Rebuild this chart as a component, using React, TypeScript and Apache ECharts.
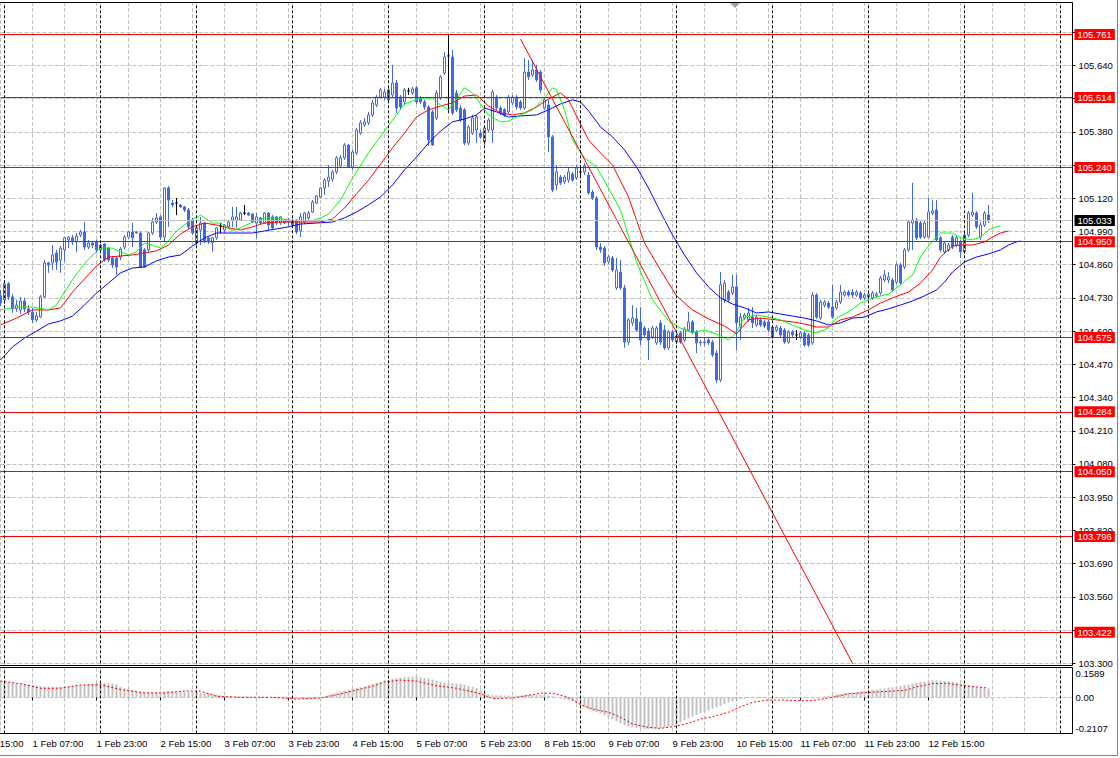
import React, { useEffect, useRef } from 'react';
import * as echarts from 'echarts';

const FONT = '"Liberation Sans", Arial, sans-serif';
const CANDLE_BLUE = '#4169e1';
const GRID_GREY = '#c0c0c0';

// bars are numbered hourly from 29 Jan 15:00 (bar 0); the window shows bars 8..276
const FIRST_VISIBLE = 8;
const LAST_CATEGORY = 276;
const LAST_BAR = 255;
const BARS_PER_LABEL = 16;
const BARS_PER_GRID = 8;

// time axis tick labels (one every 16 bars, starting at bar 0)
const timeLabels = [
  '29 Jan 15:00', '1 Feb 07:00', '1 Feb 23:00', '2 Feb 15:00', '3 Feb 07:00', '3 Feb 23:00',
  '4 Feb 15:00', '5 Feb 07:00', '5 Feb 23:00', '8 Feb 15:00', '9 Feb 07:00', '9 Feb 23:00',
  '10 Feb 15:00', '11 Feb 07:00', '11 Feb 23:00', '12 Feb 15:00',
];
// bars of the day separators
const daySeparators = [9, 33, 57, 81, 105, 129, 153, 177, 201, 225, 249, 273];

const priceLevels = [105.761, 105.514, 105.24, 104.95, 104.575, 104.284, 104.05, 103.796, 103.422];
const bidPrice = 105.033;
const priceMin = 103.3;
const priceMax = 105.888;
const priceStep = 0.13;
const macdLabelMax = 0.1589;
const macdLabelMin = -0.2107;
const macdWindowMax = 0.2014;
const macdWindowMin = -0.2446;

// [open, close, low, high] for bars 8..255
const candles = [
  [104.738,104.710,104.698,104.761],[104.722,104.785,104.706,104.800],[104.785,104.734,104.722,104.792],[104.734,104.687,104.671,104.745],[104.687,104.702,104.675,104.722],
  [104.683,104.718,104.667,104.734],[104.718,104.687,104.675,104.730],[104.687,104.675,104.663,104.702],[104.675,104.644,104.632,104.691],[104.644,104.659,104.636,104.675],
  [104.655,104.734,104.651,104.741],[104.734,104.867,104.730,104.878],[104.867,104.859,104.828,104.871],[104.867,104.898,104.839,104.937],[104.906,104.871,104.839,104.918],
  [104.878,104.925,104.828,104.933],[104.918,104.965,104.871,104.968],[104.957,104.968,104.925,104.972],[104.965,104.949,104.937,104.976],[104.949,104.972,104.910,104.984],
  [104.976,104.988,104.968,104.996],[104.988,104.929,104.918,105.027],[104.929,104.945,104.921,104.957],[104.945,104.937,104.925,104.953],[104.949,104.918,104.906,104.957],
  [104.918,104.937,104.910,104.941],[104.941,104.878,104.871,104.945],[104.925,104.878,104.871,104.929],[104.886,104.859,104.847,104.894],[104.886,104.851,104.820,104.890],
  [104.890,104.921,104.878,104.929],[104.929,104.968,104.921,104.976],[104.968,104.988,104.961,104.992],[104.988,104.965,104.929,105.023],[104.984,104.988,104.980,104.992],
  [104.984,104.851,104.847,104.988],[104.918,104.851,104.847,104.925],[104.918,104.984,104.910,104.988],[104.984,105.027,104.976,105.043],[105.027,105.043,105.019,105.062],
  [105.047,104.968,104.957,105.054],[104.968,105.160,104.949,105.164],[105.160,105.113,105.008,105.168],[105.101,105.094,105.086,105.113],[105.101,105.101,105.054,105.121],
  [105.094,105.086,105.082,105.098],[105.086,105.074,105.066,105.090],[105.074,105.008,105.000,105.082],[105.035,104.984,104.976,105.043],[104.945,105.004,104.937,105.012],
  [104.996,105.023,104.937,105.047],[105.023,104.949,104.945,105.027],[104.965,104.949,104.941,104.968],[104.945,104.965,104.910,104.968],[104.965,105.004,104.957,105.008],
  [105.012,105.012,104.984,105.023],[104.996,105.015,104.988,105.019],[105.008,105.027,105.000,105.035],[105.035,105.047,105.008,105.086],[105.031,105.047,105.004,105.086],
  [105.035,105.062,105.031,105.066],[105.062,105.062,105.054,105.094],[105.062,105.054,105.051,105.066],[105.058,105.027,105.023,105.062],[105.023,105.047,104.965,105.062],
  [105.043,105.023,105.019,105.047],[105.023,105.062,105.019,105.066],[105.062,105.015,104.996,105.066],[105.047,105.004,105.000,105.054],[105.047,105.023,105.015,105.051],
  [105.023,105.047,105.015,105.051],[105.035,105.023,105.019,105.039],[105.035,105.027,105.012,105.043],[105.031,105.015,105.008,105.039],[105.035,104.988,104.980,105.039],
  [104.992,105.047,104.968,105.062],[105.027,105.062,105.019,105.066],[105.043,105.062,105.035,105.070],[105.066,105.105,105.062,105.113],[105.101,105.129,105.098,105.133],
  [105.125,105.160,105.121,105.164],[105.160,105.191,105.133,105.199],[105.188,105.203,105.164,105.250],[105.195,105.223,105.184,105.231],[105.223,105.278,105.215,105.285],
  [105.246,105.278,105.238,105.289],[105.278,105.328,105.270,105.336],[105.328,105.242,105.238,105.332],[105.242,105.301,105.231,105.309],[105.297,105.387,105.289,105.395],
  [105.375,105.415,105.368,105.426],[105.407,105.419,105.399,105.434],[105.415,105.446,105.407,105.458],[105.446,105.493,105.438,105.505],[105.485,105.516,105.477,105.524],
  [105.516,105.544,105.512,105.552],[105.516,105.536,105.505,105.548],[105.544,105.505,105.497,105.552],[105.524,105.571,105.516,105.642],[105.571,105.473,105.454,105.583],
  [105.516,105.477,105.466,105.524],[105.497,105.544,105.485,105.552],[105.540,105.540,105.524,105.552],[105.532,105.548,105.524,105.556],[105.552,105.497,105.489,105.560],
  [105.512,105.497,105.489,105.520],[105.497,105.477,105.466,105.505],[105.477,105.348,105.325,105.485],[105.458,105.328,105.325,105.466],[105.434,105.532,105.426,105.544],
  [105.512,105.595,105.505,105.602],[105.610,105.673,105.602,105.692],[105.677,105.677,105.454,105.761],[105.673,105.454,105.446,105.700],[105.532,105.466,105.458,105.544],
  [105.473,105.426,105.419,105.485],[105.466,105.336,105.328,105.473],[105.336,105.399,105.328,105.407],[105.375,105.434,105.368,105.446],[105.387,105.438,105.336,105.446],
  [105.375,105.360,105.352,105.387],[105.340,105.395,105.328,105.403],[105.387,105.426,105.379,105.434],[105.387,105.536,105.336,105.544],[105.516,105.473,105.466,105.524],
  [105.473,105.454,105.446,105.481],[105.466,105.446,105.438,105.473],[105.458,105.516,105.450,105.524],[105.493,105.516,105.485,105.524],[105.516,105.477,105.466,105.524],
  [105.497,105.473,105.466,105.505],[105.473,105.614,105.466,105.669],[105.614,105.595,105.583,105.661],[105.602,105.622,105.595,105.661],[105.622,105.583,105.575,105.642],
  [105.614,105.544,105.532,105.622],[105.473,105.505,105.466,105.512],[105.485,105.360,105.301,105.505],[105.360,105.152,105.144,105.368],[105.172,105.223,105.152,105.250],
  [105.203,105.180,105.172,105.211],[105.184,105.203,105.176,105.211],[105.191,105.223,105.180,105.238],[105.215,105.191,105.184,105.223],[105.199,105.238,105.191,105.250],
  [105.223,105.223,105.199,105.238],[105.223,105.246,105.211,105.258],[105.211,105.141,105.133,105.223],[105.144,105.121,105.113,105.152],[105.121,104.929,104.918,105.129],
  [104.929,104.918,104.906,104.945],[104.925,104.867,104.855,104.933],[104.871,104.890,104.863,104.898],[104.886,104.839,104.831,104.894],[104.769,104.839,104.761,104.886],
  [104.831,104.769,104.761,104.878],[104.769,104.557,104.534,104.781],[104.557,104.644,104.546,104.651],[104.632,104.651,104.620,104.702],[104.648,104.604,104.597,104.691],
  [104.636,104.565,104.546,104.694],[104.612,104.585,104.577,104.620],[104.600,104.565,104.487,104.612],[104.577,104.612,104.569,104.620],[104.554,104.612,104.546,104.620],
  [104.632,104.557,104.546,104.644],[104.604,104.534,104.526,104.624],[104.534,104.597,104.526,104.604],[104.597,104.565,104.557,104.604],[104.557,104.581,104.550,104.589],
  [104.593,104.557,104.550,104.600],[104.565,104.608,104.557,104.616],[104.604,104.636,104.597,104.675],[104.636,104.597,104.589,104.644],[104.597,104.554,104.514,104.604],
  [104.554,104.557,104.542,104.565],[104.557,104.554,104.542,104.573],[104.565,104.554,104.546,104.573],[104.557,104.507,104.499,104.565],[104.514,104.409,104.397,104.526],
  [104.409,104.781,104.401,104.831],[104.722,104.788,104.710,104.800],[104.753,104.722,104.714,104.761],[104.749,104.773,104.741,104.820],[104.773,104.632,104.526,104.820],
  [104.616,104.655,104.565,104.671],[104.651,104.663,104.644,104.671],[104.644,104.671,104.636,104.691],[104.655,104.632,104.612,104.694],[104.624,104.655,104.616,104.663],
  [104.644,104.624,104.616,104.651],[104.636,104.620,104.612,104.644],[104.636,104.604,104.597,104.644],[104.616,104.577,104.569,104.624],[104.604,104.616,104.597,104.624],
  [104.612,104.585,104.577,104.620],[104.604,104.557,104.550,104.612],[104.557,104.597,104.550,104.604],[104.597,104.585,104.577,104.604],[104.585,104.585,104.565,104.604],
  [104.577,104.593,104.569,104.600],[104.593,104.546,104.538,104.600],[104.585,104.546,104.538,104.593],[104.554,104.741,104.546,104.753],[104.741,104.655,104.648,104.749],
  [104.651,104.714,104.644,104.722],[104.702,104.714,104.694,104.722],[104.710,104.694,104.687,104.718],[104.694,104.655,104.648,104.781],[104.691,104.714,104.683,104.722],
  [104.714,104.753,104.706,104.781],[104.741,104.753,104.734,104.761],[104.753,104.741,104.734,104.761],[104.753,104.741,104.730,104.765],[104.741,104.753,104.734,104.761],
  [104.749,104.730,104.722,104.757],[104.730,104.741,104.722,104.749],[104.734,104.745,104.726,104.753],[104.730,104.749,104.722,104.757],[104.738,104.745,104.730,104.753],
  [104.749,104.808,104.741,104.816],[104.800,104.820,104.792,104.839],[104.800,104.812,104.788,104.831],[104.800,104.761,104.753,104.808],[104.792,104.859,104.785,104.867],
  [104.859,104.788,104.781,104.867],[104.851,104.918,104.843,104.925],[104.918,105.027,104.910,105.035],[105.023,105.035,104.918,105.180],[105.035,104.965,104.957,105.043],
  [105.023,104.968,104.961,105.031],[104.968,105.023,104.961,105.031],[104.968,105.066,104.965,105.121],[105.062,105.070,105.054,105.113],[105.074,104.957,104.949,105.113],
  [104.965,104.918,104.910,104.972],[104.910,104.945,104.902,104.953],[104.918,104.937,104.910,104.945],[104.968,104.929,104.921,104.976],[104.937,104.965,104.929,104.972],
  [104.949,104.910,104.886,104.957],[104.910,104.976,104.902,104.984],[104.976,105.062,104.968,105.070],[105.054,105.066,105.047,105.141],[105.062,105.008,105.000,105.070],
  [104.968,105.015,104.957,105.027],[105.015,105.062,105.008,105.070],[105.054,105.033,105.023,105.094],
];

// Alligator lines, read as [bar, price]
const lipsLine = [
  [8,104.683],[12,104.694],[16,104.694],[20,104.683],[22,104.702],[24,104.753],[27,104.824],[30,104.882],[33,104.925],[36,104.925],
  [38,104.910],[40,104.898],[42,104.910],[44,104.945],[46,104.937],[48,104.925],[50,104.953],[52,104.992],[55,105.027],[58,105.054],
  [61,105.023],[63,105.023],[66,104.992],[68,105.004],[71,105.027],[74,105.043],[77,105.043],[80,105.035],[83,105.031],[86,105.031],
  [88,105.043],[90,105.058],[93,105.113],[96,105.199],[100,105.297],[104,105.383],[109,105.489],[113,105.512],[116,105.512],[118,105.485],
  [120,105.466],[122,105.508],[124,105.552],[126,105.532],[128,105.489],[130,105.446],[133,105.419],[135,105.422],[138,105.446],[141,105.466],
  [144,105.512],[146,105.552],[147,105.544],[149,105.466],[151,105.348],[154,105.278],[157,105.242],[160,105.160],[163,105.074],[167,104.871],
  [171,104.722],[175,104.640],[178,104.612],[181,104.593],[184,104.604],[187,104.589],[190,104.565],[192,104.597],[194,104.655],[197,104.663],
  [200,104.655],[203,104.644],[206,104.624],[209,104.604],[212,104.593],[215,104.612],[217,104.651],[220,104.675],[223,104.710],[226,104.730],
  [230,104.745],[233,104.781],[236,104.820],[238,104.890],[241,104.953],[243,104.984],[246,104.984],[248,104.965],[251,104.957],[253,104.968],
  [255,104.996],[257,105.008],[258,105.012],
];
const teethLine = [
  [8,104.624],[12,104.651],[16,104.683],[20,104.683],[23,104.691],[26,104.753],[29,104.804],[32,104.855],[35,104.890],[38,104.894],
  [41,104.898],[44,104.906],[47,104.914],[50,104.937],[53,104.980],[56,105.008],[59,105.023],[62,105.015],[65,105.004],[68,104.996],
  [71,105.008],[74,105.023],[77,105.027],[81,105.027],[85,105.027],[88,105.027],[91,105.039],[94,105.082],[97,105.137],[100,105.191],
  [103,105.254],[106,105.317],[109,105.375],[112,105.438],[115,105.466],[118,105.481],[121,105.493],[124,105.520],[127,105.524],[130,105.481],
  [133,105.454],[136,105.446],[139,105.454],[142,105.477],[145,105.508],[148,105.532],[150,105.505],[152,105.442],[155,105.348],[158,105.297],
  [161,105.250],[165,105.125],[169,104.945],[173,104.839],[177,104.738],[181,104.683],[185,104.648],[189,104.620],[192,104.589],[195,104.644],
  [198,104.651],[202,104.644],[206,104.636],[209,104.628],[212,104.616],[215,104.616],[218,104.644],[221,104.655],[225,104.683],[228,104.710],
  [231,104.730],[235,104.753],[238,104.788],[241,104.839],[243,104.890],[246,104.933],[248,104.937],[251,104.937],[254,104.949],[256,104.968],
  [258,104.984],[260,104.992],
];
const jawLine = [
  [8,104.487],[11,104.538],[14,104.573],[17,104.600],[20,104.628],[23,104.640],[26,104.659],[29,104.702],[32,104.749],[35,104.788],
  [38,104.828],[41,104.847],[44,104.851],[47,104.875],[50,104.890],[53,104.898],[56,104.933],[59,104.965],[62,104.984],[65,104.984],
  [68,104.984],[71,104.984],[74,104.992],[77,105.000],[80,105.008],[83,105.019],[87,105.023],[91,105.027],[94,105.043],[97,105.066],
  [100,105.094],[103,105.125],[106,105.172],[109,105.231],[112,105.281],[115,105.336],[118,105.383],[121,105.419],[124,105.430],[127,105.446],
  [129,105.473],[132,105.458],[135,105.438],[138,105.442],[142,105.446],[145,105.466],[148,105.489],[151,105.505],[153,105.497],[155,105.462],
  [158,105.399],[161,105.360],[164,105.309],[167,105.242],[170,105.160],[173,105.066],[176,104.976],[179,104.898],[182,104.828],[185,104.773],
  [188,104.730],[191,104.706],[194,104.691],[197,104.671],[200,104.675],[203,104.667],[206,104.659],[209,104.651],[212,104.640],[215,104.624],
  [218,104.632],[221,104.651],[224,104.655],[227,104.675],[230,104.687],[233,104.702],[236,104.718],[239,104.738],[242,104.761],[244,104.792],
  [246,104.831],[249,104.871],[252,104.890],[255,104.902],[258,104.918],[260,104.937],[262,104.949],[263,104.953],
];
const trendLine = [[138, 105.743], [222, 103.271]];

// MACD main (histogram) for bars 8..255
const macdMain = [
  0.104,0.103,0.101,0.099,0.097,0.094,0.091,0.086,0.082,0.077,
  0.075,0.073,0.070,0.069,0.069,0.070,0.073,0.075,0.077,0.079,
  0.082,0.085,0.089,0.092,0.096,0.097,0.096,0.094,0.092,0.088,
  0.069,0.060,0.052,0.046,0.041,0.039,0.038,0.038,0.037,0.038,
  0.039,0.041,0.043,0.041,0.040,0.039,0.038,0.036,0.035,0.033,
  0.032,0.030,0.028,0.023,0.018,0.014,0.010,0.008,0.007,0.006,
  0.006,0.005,0.005,0.003,0.003,0.002,0.001,0.000,-0.001,-0.002,
  -0.003,-0.005,-0.007,-0.009,-0.010,-0.012,-0.012,-0.010,-0.008,-0.006,
  -0.002,0.006,0.014,0.023,0.031,0.039,0.046,0.052,0.058,0.065,
  0.069,0.076,0.083,0.090,0.098,0.104,0.111,0.118,0.124,0.129,
  0.132,0.136,0.138,0.139,0.138,0.136,0.132,0.127,0.120,0.112,
  0.104,0.099,0.096,0.093,0.092,0.090,0.085,0.078,0.071,0.063,
  0.046,0.032,0.021,0.016,0.013,0.012,0.012,0.010,0.010,0.012,
  0.012,0.013,0.014,0.015,0.017,0.018,0.016,0.012,0.008,0.003,
  -0.008,-0.014,-0.020,-0.026,-0.040,-0.055,-0.068,-0.082,-0.092,-0.100,
  -0.110,-0.122,-0.134,-0.148,-0.161,-0.175,-0.188,-0.196,-0.203,-0.209,
  -0.212,-0.214,-0.214,-0.213,-0.212,-0.210,-0.206,-0.201,-0.193,-0.182,
  -0.170,-0.157,-0.143,-0.130,-0.119,-0.108,-0.098,-0.088,-0.077,-0.067,
  -0.057,-0.047,-0.036,-0.026,-0.018,-0.011,-0.008,-0.006,-0.005,-0.005,
  -0.005,-0.006,-0.006,-0.007,-0.007,-0.008,-0.008,-0.007,-0.007,-0.006,
  -0.006,-0.005,-0.003,-0.001,0.001,0.003,0.006,0.010,0.014,0.019,
  0.024,0.028,0.031,0.033,0.036,0.039,0.043,0.046,0.050,0.053,
  0.058,0.061,0.065,0.068,0.071,0.076,0.081,0.086,0.092,0.098,
  0.103,0.107,0.112,0.115,0.114,0.112,0.111,0.108,0.105,0.101,
  0.094,0.088,0.081,0.074,0.068,0.062,0.059,0.055,
];
// MACD signal, read as [bar, value]
const macdSignal = [
  [8,0.109],[13,0.092],[18,0.061],[23,0.061],[28,0.084],[33,0.084],[38,0.053],[44,0.029],[49,0.029],[54,0.043],
  [58,0.041],[62,0.007],[68,0.000],[76,0.000],[82,-0.012],[88,-0.005],[94,0.029],[97,0.049],[101,0.074],[104,0.104],
  [108,0.116],[112,0.109],[117,0.078],[122,0.061],[128,0.024],[131,-0.008],[136,-0.005],[142,0.022],[143,0.029],[146,0.027],
  [150,0.000],[153,-0.050],[156,-0.079],[160,-0.101],[163,-0.135],[166,-0.180],[170,-0.203],[173,-0.210],[176,-0.199],[180,-0.176],
  [183,-0.147],[186,-0.131],[190,-0.101],[193,-0.064],[196,-0.034],[200,-0.018],[203,-0.018],[208,-0.023],[211,-0.023],[216,0.000],
  [220,0.023],[224,0.032],[229,0.039],[234,0.046],[237,0.070],[241,0.093],[245,0.093],[248,0.081],[252,0.070],[255,0.062],
];

const GRID_LEFT = 0.5;
const GRID_WIDTH = 1072;
const categories = Array.from({ length: LAST_CATEGORY - FIRST_VISIBLE + 1 }, (_, i) => String(FIRST_VISIBLE + i));
const toCat = (bar: number) => bar - FIRST_VISIBLE;
const showTimeLabel = (i: number) => (i + FIRST_VISIBLE) % BARS_PER_LABEL === 0 && i + FIRST_VISIBLE <= LAST_BAR;
const showGridLine = (i: number) => (i + FIRST_VISIBLE) % BARS_PER_GRID === 0;
const barStep = GRID_WIDTH / (categories.length - 1);

const candleData = candles.map((c, i) => [i, c[0], c[1], c[2], c[3]]);
const macdData = macdMain.map((v, i) => [i, v]);
const shiftPairs = (pts: number[][]) => pts.map(([b, v]) => [toCat(b), v]);

const gridSplit = { show: true, interval: showGridLine, lineStyle: { color: GRID_GREY, type: [4, 2], width: 1 } };
const separatorMarks = {
  silent: true,
  symbol: ['none', 'none'],
  label: { show: false },
  lineStyle: { color: '#000000', type: [3, 2], width: 1 },
  data: daySeparators.map((k) => ({ xAxis: toCat(k) })),
};
const labelText = { fontFamily: FONT, fontSize: 9.5, color: '#000000' };
const hiddenByLevel = (v: number) => priceLevels.some((l) => Math.abs(l - v) < 0.015);

function buildOption() {
  const hiddenX = { show: false };
  return {
    animation: false,
    backgroundColor: '#ffffff',
    textStyle: { fontFamily: FONT },
    grid: [
      { left: GRID_LEFT, top: 2, width: GRID_WIDTH, height: 661.3 },
      { left: GRID_LEFT, top: 667.5, width: GRID_WIDTH, height: 66 },
      { left: GRID_LEFT, top: 673.78, width: GRID_WIDTH, height: 54.7 },
    ],
    xAxis: [
      {
        type: 'category', gridIndex: 0, data: categories, boundaryGap: false,
        axisLine: hiddenX, axisTick: hiddenX, axisLabel: hiddenX, splitLine: gridSplit,
      },
      {
        type: 'category', gridIndex: 1, data: categories, boundaryGap: false,
        axisLine: hiddenX,
        axisTick: { show: true, interval: showTimeLabel, length: 3, lineStyle: { color: '#000000' } },
        axisLabel: {
          ...labelText, show: true, interval: showTimeLabel, align: 'left', margin: 5,
          formatter: (_v: string, i: number) => timeLabels[(i + FIRST_VISIBLE) / BARS_PER_LABEL] ?? '',
        },
        splitLine: gridSplit,
      },
      {
        type: 'category', gridIndex: 2, data: categories, boundaryGap: false, show: false,
      },
    ],
    yAxis: [
      {
        type: 'value', gridIndex: 0, position: 'right', min: priceMin, max: priceMax, interval: priceStep,
        axisLine: { show: false },
        axisTick: { show: true, length: 3, lineStyle: { color: '#000000' } },
        axisLabel: {
          ...labelText, margin: 6, showMaxLabel: false,
          formatter: (v: number) => (hiddenByLevel(v) ? '' : v.toFixed(3)),
        },
        splitLine: { show: true, lineStyle: { color: GRID_GREY, type: [4, 2], width: 1 } },
      },
      {
        type: 'value', gridIndex: 1, position: 'right', min: macdWindowMin, max: macdWindowMax, interval: -macdWindowMin,
        axisLine: { show: false }, axisTick: { show: false }, axisLabel: { show: false },
        splitLine: { show: true, lineStyle: { color: GRID_GREY, type: [4, 2], width: 1 } },
      },
      {
        type: 'value', gridIndex: 2, position: 'right', min: macdLabelMin, max: macdLabelMax, interval: -macdLabelMin,
        axisLine: { show: false }, axisTick: { show: false }, splitLine: { show: false },
        axisLabel: {
          ...labelText, margin: 3, showMinLabel: true, showMaxLabel: true,
          formatter: (v: number) => (v === 0 ? '0.00' : v.toFixed(4)),
        },
      },
    ],
    series: [
      {
        type: 'candlestick', name: 'USDJPY', xAxisIndex: 0, yAxisIndex: 0,
        data: candleData, encode: { x: 0, y: [1, 2, 3, 4] },
        barWidth: 3,
        itemStyle: {
          color: '#ffffff', color0: CANDLE_BLUE, borderColor: CANDLE_BLUE, borderColor0: CANDLE_BLUE,
          borderColorDoji: '#000000', borderWidth: 1,
        },
        markLine: {
          silent: true, symbol: ['none', 'none'], precision: 3,
          lineStyle: { color: '#ff0000', width: 1, type: 'solid' },
          label: {
            show: true, position: 'end', distance: 2, fontFamily: FONT, fontSize: 9.5, color: '#ffffff',
            backgroundColor: '#ff0000', padding: [1, 3, 0, 3], lineHeight: 10,
            formatter: (p: any) => Number(p.value).toFixed(3),
          },
          data: [
            ...priceLevels.map((v) => ({ yAxis: v })),
            { yAxis: bidPrice, lineStyle: { color: GRID_GREY }, label: { backgroundColor: '#000000' } },
          ],
        },
      },
      {
        type: 'line', name: 'Jaw', xAxisIndex: 0, yAxisIndex: 0, data: shiftPairs(jawLine), symbol: 'none', clip: true,
        lineStyle: { color: '#0000ff', width: 1 },
        markLine: separatorMarks,
      },
      {
        type: 'line', name: 'Teeth', xAxisIndex: 0, yAxisIndex: 0, data: shiftPairs(teethLine), symbol: 'none', clip: true,
        lineStyle: { color: '#ff0000', width: 1 },
      },
      {
        type: 'line', name: 'Lips', xAxisIndex: 0, yAxisIndex: 0, data: shiftPairs(lipsLine), symbol: 'none', clip: true,
        lineStyle: { color: '#00ff00', width: 1 },
      },
      {
        type: 'line', name: 'Trend', xAxisIndex: 0, yAxisIndex: 0, data: shiftPairs(trendLine), symbol: 'none', clip: true,
        lineStyle: { color: '#ff0000', width: 1 },
      },
      {
        type: 'bar', name: 'MACD', xAxisIndex: 1, yAxisIndex: 1, data: macdData, barWidth: 2,
        itemStyle: { color: GRID_GREY },
        markLine: separatorMarks,
      },
      {
        type: 'line', name: 'Signal', xAxisIndex: 1, yAxisIndex: 1, data: shiftPairs(macdSignal), symbol: 'none', clip: true,
        lineStyle: { color: '#ff0000', width: 1, type: [2, 2] },
      },
    ],
    graphic: [
      {
        // first time label, whose bar lies left of the window
        type: 'text', silent: true, x: GRID_LEFT - FIRST_VISIBLE * barStep, y: 733.5 + 5,
        style: { text: timeLabels[0], fontFamily: FONT, fontSize: 9.5, fill: '#000000', verticalAlign: 'top', align: 'left' },
      },
      { type: 'rect', z: 100, silent: true, shape: { x: -2, y: 2.5, width: 1074.5, height: 663 }, style: { fill: 'none', stroke: '#000000', lineWidth: 1 } },
      { type: 'rect', z: 100, silent: true, shape: { x: -2, y: 667.5, width: 1074.5, height: 66 }, style: { fill: 'none', stroke: '#000000', lineWidth: 1 } },
      { type: 'polyline', z: 100, silent: true, shape: { points: [[0, 755.5], [1117.5, 755.5], [1117.5, 0]] }, style: { fill: 'none', stroke: '#808080', lineWidth: 1 } },
      { type: 'polygon', z: 100, silent: true, shape: { points: [[730, 3], [740, 3], [735, 8]] }, style: { fill: '#a0a0a0' } },
    ],
  };
}

export default function App() {
  const ref = useRef<HTMLDivElement>(null);
  useEffect(() => {
    if (!ref.current) return;
    const chart = echarts.init(ref.current, null, { renderer: 'svg' });
    chart.setOption(buildOption() as any);
    return () => chart.dispose();
  }, []);
  return (
    <div
      ref={ref}
      style={{ position: 'fixed', left: 0, top: 0, width: 1120, height: 758, background: '#ffffff' }}
    />
  );
}
